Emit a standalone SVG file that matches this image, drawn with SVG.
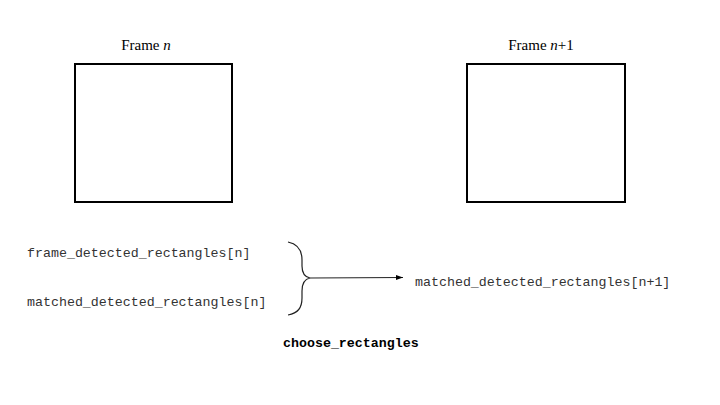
<svg xmlns="http://www.w3.org/2000/svg" width="720" height="405" viewBox="0 0 720 405">
<style>
.box{fill:none;stroke:#000;stroke-width:2}
.title{font-family:"Liberation Serif",serif;font-size:15px;fill:#000;text-anchor:middle}
.mono{font-family:"Liberation Mono",monospace;font-size:13.3px;fill:#333}
.bold{font-weight:bold;fill:#000}
.line{fill:none;stroke:#222;stroke-width:1.2}
</style>
<defs>
<marker id="arr" markerWidth="8" markerHeight="6" refX="7" refY="3" orient="auto" markerUnits="userSpaceOnUse">
<path d="M0,0.5 L7,3 L0,5.5 Z" fill="#000"/>
</marker>
</defs>
<rect width="720" height="405" fill="#fff"/>
<g id="frame-n">
<text class="title" x="146" y="50">Frame <tspan font-style="italic">n</tspan></text>
<rect class="box" x="75" y="64" width="157" height="138"/>
</g>
<g id="frame-n1">
<text class="title" x="541" y="50">Frame <tspan font-style="italic">n</tspan>+1</text>
<rect class="box" x="467" y="64" width="158" height="138"/>
</g>
<g id="input-frame">
<text class="mono" x="27" y="257">frame_detected_rectangles[n]</text>
</g>
<g id="input-matched">
<text class="mono" x="27" y="306">matched_detected_rectangles[n]</text>
</g>
<g id="output">
<text class="mono" x="415" y="286">matched_detected_rectangles[n+1]</text>
</g>
<g id="label">
<text class="mono bold" x="283" y="347">choose_rectangles</text>
</g>
<g id="connectors">
<path class="line" d="M288,242 C298,244 302,250 302,260 L302,266 C302,274 305,277 310,278 C305,279 302,283 302,291 L302,298 C302,308 298,313 288,315"/>
<path class="line" d="M310,278 L403,277.5" marker-end="url(#arr)"/>
</g>
</svg>
